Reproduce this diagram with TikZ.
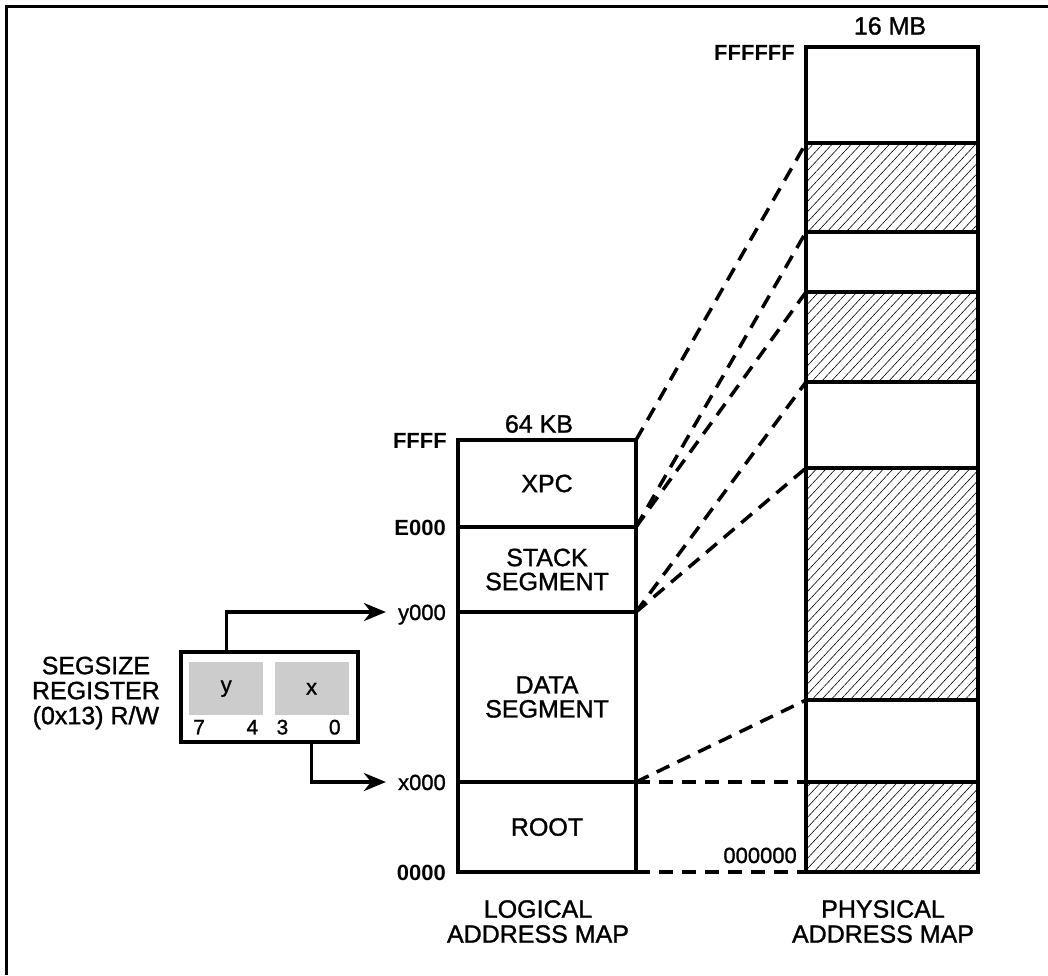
\documentclass[tikz,border=0pt]{standalone}
\usepackage{fontspec}
\setmainfont{Liberation Sans}[UprightFeatures={FakeBold=1.2}]
\usetikzlibrary{positioning,arrows.meta,patterns.meta}
\definecolor{fieldgray}{RGB}{204,204,204}

\begin{document}
\begin{tikzpicture}[x=1pt,y=-1pt,
	seg/.style={rectangle, draw, line width=3.3pt, outer sep=0pt, inner sep=0pt,
	minimum width=178pt, align=center, font=\fontsize{25}{24}\selectfont},
	pseg/.style={rectangle, draw, line width=3.3pt, outer sep=0pt, inner sep=0pt,
	minimum width=172pt},
	hatch/.style={pattern={Lines[angle=47,distance=7pt,line width=0.6pt]}},
	addr/.style={inner sep=0pt, text height=16pt, text depth=0pt,
	font=\fontsize{22}{22}\selectfont},
	boldaddr/.style={addr, font=\fontsize{22}{22}\selectfont\bfseries},
	captext/.style={inner sep=0pt, align=center, font=\fontsize{25}{25}\selectfont},
	fieldbox/.style={rectangle, fill=fieldgray, inner sep=0pt, minimum width=74pt,
	minimum height=53pt, font=\fontsize{22}{22}\selectfont},
	bitnum/.style={inner sep=0pt, font=\fontsize{21}{21}\selectfont},
	maplink/.style={line width=3.5pt, dash pattern=on 14pt off 9pt},
	regarrow/.style={line width=3.3pt, -{Stealth[length=22pt, width=18pt, inset=7pt]},
	shorten >=12pt}
	]
	\useasboundingbox (0,0) rectangle (1048,975);
	\draw[line width=3pt] (6.5,975) |- (1048,6.5);

	% logical address map
	\node[seg, minimum height=87pt, anchor=north] (xpc) at (547,440) {XPC};
	\node[seg, minimum height=85pt, below=0pt of xpc] (stack) {STACK\\SEGMENT};
	\node[seg, minimum height=170pt, below=0pt of stack] (data) {DATA\\SEGMENT};
	\node[seg, minimum height=90pt, below=0pt of data] (root) {ROOT};

	\node[boldaddr, left=11pt of xpc.north west] (lffff) {FFFF};
	\node[boldaddr, left=12pt of xpc.south west] (le000) {E000};
	\node[addr, left=12pt of stack.south west] (ly000) {y000};
	\node[addr, left=12pt of data.south west] (lx000) {x000};
	\node[boldaddr, left=12pt of root.south west] (l0000) {0000};
	\node[captext, above=7pt of xpc.north, xshift=-8pt] (lsize) {64 KB};
	\node[captext, below=28pt of root.south, xshift=-9pt] (ltitle) {LOGICAL\\ADDRESS MAP};

	% physical address map
	\node[pseg, minimum height=96pt, anchor=north] (p1) at (892,47) {};
	\node[pseg, hatch, minimum height=89pt, below=0pt of p1] (p2) {};
	\node[pseg, minimum height=60pt, below=0pt of p2] (p3) {};
	\node[pseg, hatch, minimum height=90pt, below=0pt of p3] (p4) {};
	\node[pseg, minimum height=86pt, below=0pt of p4] (p5) {};
	\node[pseg, hatch, minimum height=232pt, below=0pt of p5] (p6) {};
	\node[pseg, minimum height=82pt, below=0pt of p6] (p7) {};
	\node[pseg, hatch, minimum height=90pt, below=0pt of p7] (p8) {};

	\node[boldaddr, anchor=east] (pffffff) at ([shift={(-11,5)}]p1.north west) {FFFFFF};
	\node[addr, anchor=east] (p000000) at ([shift={(-9,-17)}]p8.south west) {000000};
	\node[captext, above=12pt of p1.north, xshift=-2pt] (psize) {16 MB};
	\node[captext, below=28pt of p8.south, xshift=-9pt] (ptitle) {PHYSICAL\\ADDRESS MAP};

	% segsize register
	\node[draw, line width=3.3pt, outer sep=0pt, minimum width=177pt,
	minimum height=90pt] (reg) at (269.5,697) {};
	\node[fieldbox, anchor=north west] (fy) at ([shift={(8,10)}]reg.north west) {y};
	\node[fieldbox, right=11pt of fy] (fx) {x};
	\node[bitnum, anchor=base west] (b7) at ([shift={(4,19)}]fy.south west) {7};
	\node[bitnum, anchor=base east] (b4) at ([shift={(-5,19)}]fy.south east) {4};
	\node[bitnum, anchor=base west] (b3) at ([shift={(2,19)}]fx.south west) {3};
	\node[bitnum, anchor=base east] (b0) at ([shift={(-8,19)}]fx.south east) {0};
	\node[captext, left=21pt of reg.west, yshift=4pt] (regname) {SEGSIZE\\REGISTER\\(0x13) R/W};

	\draw[regarrow] (reg.north -| fy.north) |- (ly000.west);
	\draw[regarrow] (reg.south -| fx.south) |- (lx000.west);

	% segment mapping
	\draw[maplink] (xpc.north east) -- (p2.north west);
	\draw[maplink] (xpc.south east) -- (p2.south west);
	\draw[maplink] (stack.north east) -- (p4.north west);
	\draw[maplink] (stack.south east) -- (p4.south west);
	\draw[maplink] (data.north east) -- (p6.north west);
	\draw[maplink] (data.south east) -- (p6.south west);
	\draw[maplink] (root.north east) -- (p8.north west);
	\draw[maplink] (root.south east) -- (p8.south west);
\end{tikzpicture}
\end{document}
